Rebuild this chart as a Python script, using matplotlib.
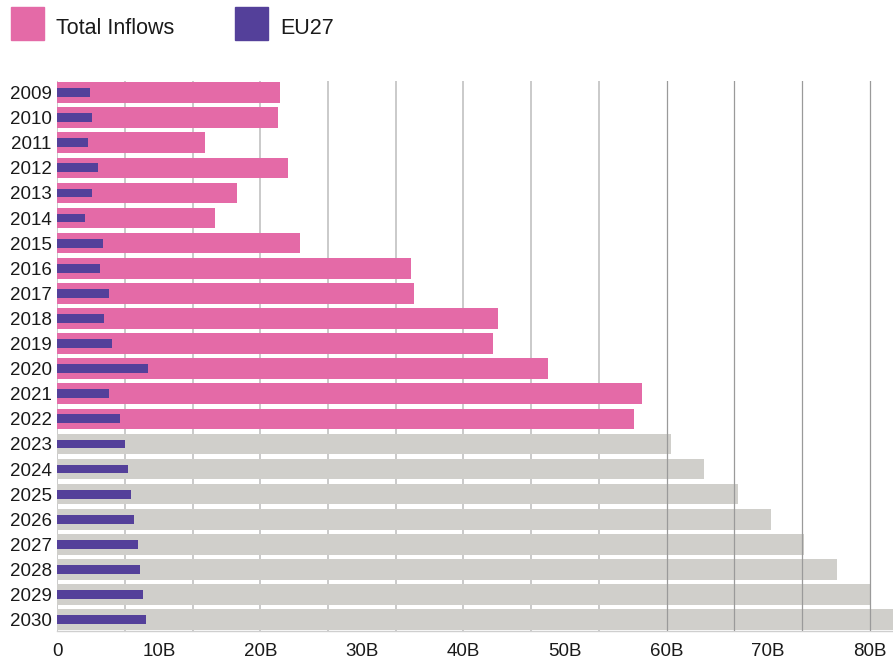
"""
Total inflows vs EU27, 2009-2030 (grey = projection)
"""

from matplotlib import pyplot as plt
from matplotlib.patches import Rectangle
import numpy as np

years = [str(y) for y in range(2009, 2031)]
# actual total inflows, 2009-2022 (billions)
total_inflows = [21.9, 21.7, 14.5, 22.7, 17.7, 15.5, 23.9, 34.8, 35.1, 43.4,
                 42.9, 48.3, 57.6, 56.8]
# projected total, 2023-2030 (billions)
projected = [60.4, 63.7, 67.0, 70.3, 73.5, 76.8, 80.1, 83.4]
eu27 = [3.2, 3.4, 3.0, 4.0, 3.4, 2.7, 4.5, 4.2, 5.1, 4.6, 5.4, 8.9, 5.1, 6.2,
        6.7, 7.0, 7.3, 7.6, 7.9, 8.1, 8.4, 8.7]
x_ticks = [0, 10, 20, 30, 40, 50, 60, 70, 80]
x_tick_labels = ['0', '10B', '20B', '30B', '40B', '50B', '60B', '70B', '80B']

pink = '#e46aa7'
purple = '#54409a'
grey = '#d0cfcb'

plt.rcParams['font.family'] = ['Liberation Sans', 'DejaVu Sans']

W, H = 893, 660
fig = plt.figure(figsize=(W / 100, H / 100), dpi=100)
ax = fig.add_axes([57.3 / W, 1 - 631 / H, 1 - 57.3 / W, (631 - 81.2) / H])

y = np.arange(len(years))
n_act = len(total_inflows)
ax.barh(y[:n_act], total_inflows, height=0.82, color=pink, zorder=2)
ax.barh(y[n_act:], projected, height=0.82, color=grey, zorder=2)
ax.barh(y, eu27, height=0.35, color=purple, zorder=4)

# grid lines: 12 steps across the 0-80B span
for g in np.linspace(0, 80, 13):
    if g < 59:
        ax.axvline(g, color='#c6c6c6', lw=1.3, zorder=1)
    else:
        ax.axvline(g, color='#9a9a9a', lw=0.9, zorder=3)

ax.set_xlim(0, 82.3)
ax.set_ylim(21.45, -0.45)
ax.set_yticks(y)
ax.set_yticklabels(years, fontsize=13.5, color='#1a1a1a')
ax.set_xticks(x_ticks)
ax.set_xticklabels(x_tick_labels, fontsize=13.5, color='#1a1a1a')
ax.tick_params(axis='y', length=0, pad=4)
ax.tick_params(axis='x', length=0, pad=9)
for s in ['top', 'right', 'left']:
    ax.spines[s].set_visible(False)
ax.spines['bottom'].set_color('#cfcfcf')
ax.spines['bottom'].set_linewidth(1.0)

# legend drawn in figure pixels
def legend_item(x0, color, label, text_x):
    fig.add_artist(Rectangle((x0 / W, 1 - 40 / H), 33 / W, 33 / H,
                             color=color, transform=fig.transFigure))
    fig.text(text_x / W, 1 - 34 / H, label, fontsize=15.5, color='#1a1a1a',
             va='baseline', ha='left')

legend_item(11, pink, 'Total Inflows', 56)
legend_item(235, purple, 'EU27', 280)

fig.savefig('out.png', dpi=100)
